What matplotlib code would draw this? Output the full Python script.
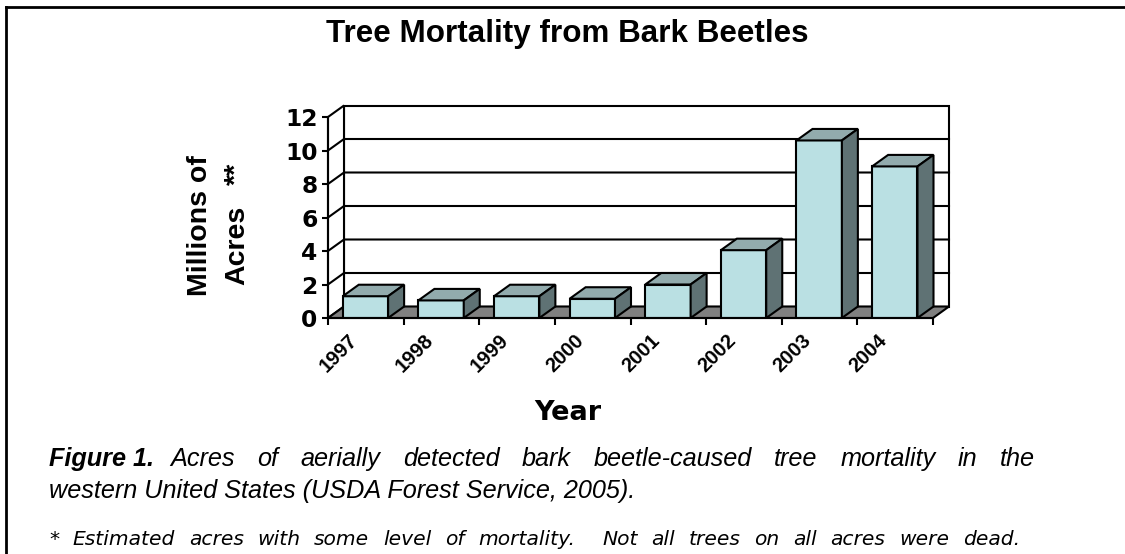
import matplotlib
matplotlib.use("Agg")
import matplotlib.pyplot as plt
from matplotlib.patches import Polygon
from matplotlib.transforms import ScaledTranslation
import numpy as np

years = ["1997", "1998", "1999", "2000", "2001", "2002", "2003", "2004"]
acres = [1.3, 1.05, 1.3, 1.15, 2.0, 4.05, 10.6, 9.05]
yticks = [0, 2, 4, 6, 8, 10, 12]

title = "Tree Mortality from Bark Beetles"
xlabel = "Year"
ylabel1 = "Millions of"
ylabel2 = "Acres"
ylabel_star = "**"
cap_bold = "Figure 1."
cap_line1 = "Acres of aerially detected bark beetle-caused tree mortality in the"
cap_line2 = "western United States (USDA Forest Service, 2005)."
footnote = "* Estimated acres with some level of mortality.  Not all trees on all acres were dead."

plt.rcParams['font.family'] = ['Liberation Sans', 'DejaVu Sans']

W, H = 1125, 554
fig = plt.figure(figsize=(W / 100, H / 100), dpi=100)
fig.patch.set_facecolor('white')

def fx(px):
    return px / W

def fy(py):
    return 1 - py / H

# axes geometry (pixels)
x0, x1 = 328, 933
y0, y12 = 318, 117
ax = fig.add_axes([fx(x0), fy(y0), (x1 - x0) / W, (y0 - y12) / H])
n = len(years)
ax.set_xlim(0, n)
ax.set_ylim(0, 12)
ax.patch.set_visible(False)

DX = 16 / ((x1 - x0) / n)
DY = 11.5 / ((y0 - y12) / 12)
LW = 1.5
front_c = '#BAE0E3'
top_c = '#92ABAD'
side_c = '#5F7274'
floor_c = '#808080'

# back wall
ax.add_patch(Polygon([(DX, DY), (n + DX, DY), (n + DX, 12 + DY), (DX, 12 + DY)],
                     closed=True, facecolor='white', edgecolor='black', lw=LW, zorder=1, clip_on=False))
# left wall
ax.add_patch(Polygon([(0, 0), (DX, DY), (DX, 12 + DY), (0, 12)],
                     closed=True, facecolor='white', edgecolor='black', lw=LW, zorder=1, clip_on=False))
# gridlines
for v in yticks[1:-1]:
    ax.plot([0, DX, n + DX], [v, v + DY, v + DY], color='black', lw=LW, zorder=1.5, clip_on=False)
# floor
ax.add_patch(Polygon([(0, 0), (n, 0), (n + DX, DY), (DX, DY)],
                     closed=True, facecolor=floor_c, edgecolor='black', lw=LW, zorder=2, clip_on=False))

# bars
off, bw = 0.195, 0.6
xs = np.arange(n) + off
ax.bar(xs, acres, width=bw, align='edge', color=front_c, edgecolor='black', lw=LW, zorder=4)
for xl, v in zip(xs, acres):
    xr = xl + bw
    ax.add_patch(Polygon([(xl, v), (xr, v), (xr + DX, v + DY), (xl + DX, v + DY)],
                         closed=True, facecolor=top_c, edgecolor='black', lw=LW, zorder=4, clip_on=False))
    ax.add_patch(Polygon([(xr, 0), (xr + DX, DY), (xr + DX, v + DY), (xr, v)],
                         closed=True, facecolor=side_c, edgecolor='black', lw=LW, zorder=4, clip_on=False))

# spines / ticks
for s in ['top', 'right']:
    ax.spines[s].set_visible(False)
for s in ['left', 'bottom']:
    ax.spines[s].set_linewidth(LW)
    ax.spines[s].set_zorder(5)
ax.set_yticks(yticks)
ax.set_yticklabels([str(v) for v in yticks], fontsize=16.8, fontweight='bold',
                   family=['DejaVu Sans'])
ax.tick_params(axis='y', length=4.5, width=LW, pad=3)
ax.set_xticks(np.arange(n + 1))
ax.set_xticklabels([])
ax.tick_params(axis='x', length=5, width=LW)

for i, yr in enumerate(years):
    tr = ax.transData + ScaledTranslation(-13 / 72, -9 / 72, fig.dpi_scale_trans)
    ax.text(i + 0.5, 0, yr, transform=tr, rotation=45, rotation_mode='anchor',
            ha='right', va='top', fontsize=14.5, fontweight='bold', clip_on=False)

# titles
fig.text(fx(567), fy(42), title, ha='center', va='baseline', fontsize=22.6, fontweight='bold')
fig.text(fx(568), fy(420), xlabel, ha='center', va='baseline', fontsize=19.5, fontweight='bold',
         family=['DejaVu Sans'])
fig.text(fx(207), fy(226), ylabel1, ha='center', va='baseline', rotation=90,
         rotation_mode='anchor', fontsize=20.5, fontweight='bold')
fig.text(fx(244), fy(245), ylabel2, ha='center', va='baseline', rotation=90,
         rotation_mode='anchor', fontsize=20.5, fontweight='bold')
fig.text(fx(244), fy(174), ylabel_star, ha='center', va='baseline', rotation=90,
         rotation_mode='anchor', fontsize=20.5, fontweight='bold')

# caption
fig.canvas.draw()
r = fig.canvas.get_renderer()

def place_justified(words, xa, xb, yb, gaps=None, **kw):
    arts, widths = [], []
    for w in words:
        t = fig.text(0, fy(yb), w, ha='left', va='baseline', **kw)
        widths.append(t.get_window_extent(renderer=r).width)
        arts.append(t)
    if gaps is None:
        gaps = [1] * (len(words) - 1)
    space = (xb - xa - sum(widths)) / sum(gaps)
    x = xa
    for k, (t, wd) in enumerate(zip(arts, widths)):
        t.set_x(fx(x))
        x += wd
        if k < len(gaps):
            x += space * gaps[k]

cap_size = 18.2
fig.text(fx(49), fy(466), cap_bold, ha='left', va='baseline', fontsize=cap_size,
         fontweight='bold', fontstyle='italic')
place_justified(cap_line1.split(), 170, 1035, 466, fontsize=cap_size, fontstyle='italic')
fig.text(fx(49), fy(498), cap_line2, ha='left', va='baseline', fontsize=cap_size, fontstyle='italic')

toks = footnote.split(' ')
wf = [w for w in toks if w]
gf, cnt = [], 0
for tkn in toks[1:]:
    cnt += 1
    if tkn:
        gf.append(cnt)
        cnt = 0
place_justified(wf, 49, 1020, 545, gaps=gf, fontsize=14.6, fontstyle='italic',
                family=['DejaVu Sans'])

# frame lines
fig.add_artist(plt.Line2D([fx(6), fx(6)], [fy(7), 0], color='black', lw=2, transform=fig.transFigure))
fig.add_artist(plt.Line2D([fx(6), 1], [fy(7), fy(7)], color='black', lw=2, transform=fig.transFigure))

fig.savefig('out.png', dpi=100, facecolor='white')
